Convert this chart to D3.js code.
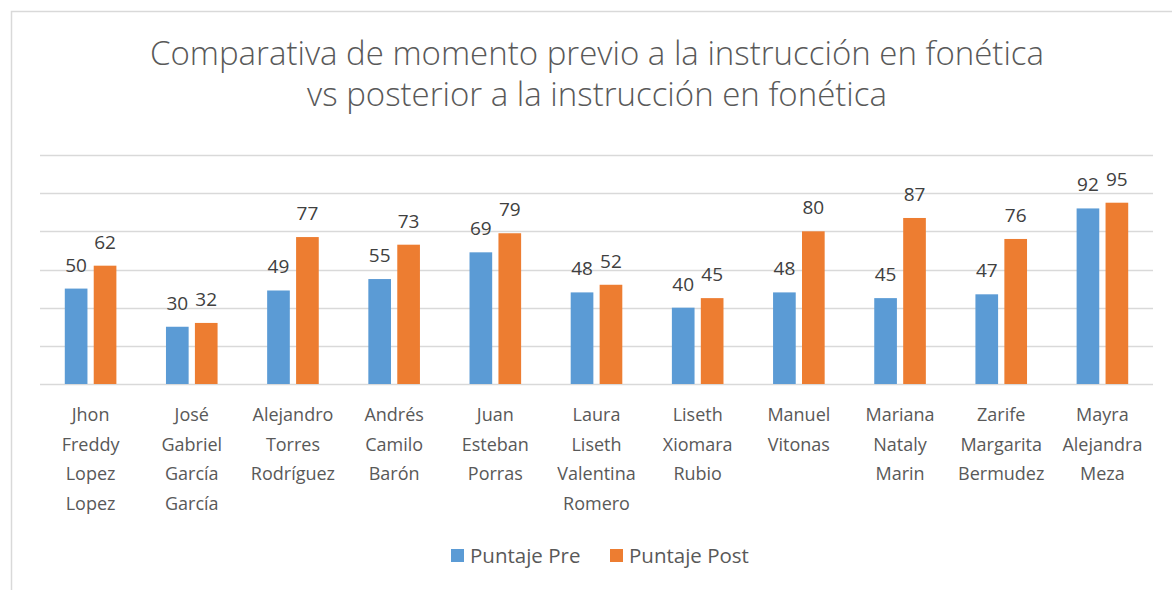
<!DOCTYPE html>
<html>
<head>
<meta charset="utf-8">
<script src="https://cdn.jsdelivr.net/npm/d3@7"></script>
<style>
  body { margin: 0; background: #fff; }
  svg text { font-family: "Open Sans", "Noto Sans", sans-serif; }
</style>
</head>
<body>
<svg id="chart" width="1172" height="590"></svg>
<script>
// data
const students = [
  ["Jhon", "Freddy", "Lopez", "Lopez"],
  ["José", "Gabriel", "García", "García"],
  ["Alejandro", "Torres", "Rodríguez"],
  ["Andrés", "Camilo", "Barón"],
  ["Juan", "Esteban", "Porras"],
  ["Laura", "Liseth", "Valentina", "Romero"],
  ["Liseth", "Xiomara", "Rubio"],
  ["Manuel", "Vitonas"],
  ["Mariana", "Nataly", "Marin"],
  ["Zarife", "Margarita", "Bermudez"],
  ["Mayra", "Alejandra", "Meza"]
];
const puntajePre = [50, 30, 49, 55, 69, 48, 40, 48, 45, 47, 92];
const puntajePost = [62, 32, 77, 73, 79, 52, 45, 80, 87, 76, 95];
const seriesNames = ["Puntaje Pre", "Puntaje Post"];
const colors = ["#5B9BD5", "#ED7D31"];
const yTicks = [0, 20, 40, 60, 80, 100, 120];
const titleLines = [
  "Comparativa de momento previo a la instrucción en fonética",
  "vs posterior a la instrucción en fonética"
];

const svg = d3.select("#chart");
const textColor = "#595959";

// chart frame
svg.append("rect")
  .attr("x", 11.5).attr("y", 11.5)
  .attr("width", 1180).attr("height", 600)
  .attr("fill", "none").attr("stroke", "#D9D9D9").attr("stroke-width", 1.5);

// title
svg.append("g").selectAll("text")
  .data(titleLines)
  .join("text")
  .attr("x", 597)
  .attr("y", (d, i) => 65 + i * 41)
  .attr("text-anchor", "middle")
  .attr("font-size", 33)
  .attr("font-weight", 300)
  .attr("fill", textColor)
  .text(d => d);

const keys = students.map((d, i) => i);
const x = d3.scaleBand().domain(keys).range([40, 1153]);
const y = d3.scaleLinear().domain([0, 120]).range([384, 155]);

const bw = x.bandwidth() * 0.224;
const gap = x.bandwidth() * 0.062;

// gridlines
svg.append("g").selectAll("line")
  .data(yTicks)
  .join("line")
  .attr("x1", 40).attr("x2", 1153)
  .attr("y1", d => Math.round(y(d)) + 0.5)
  .attr("y2", d => Math.round(y(d)) + 0.5)
  .attr("stroke", "#D9D9D9").attr("stroke-width", 1.5);

const series = [puntajePre, puntajePost];
series.forEach((vals, s) => {
  const off = s === 0 ? -gap / 2 - bw : gap / 2;
  const g = svg.append("g");
  g.selectAll("rect")
    .data(vals)
    .join("rect")
    .attr("x", (d, i) => x(i) + x.bandwidth() / 2 + off)
    .attr("y", d => y(d))
    .attr("width", bw)
    .attr("height", d => y(0) - y(d))
    .attr("fill", colors[s]);
  g.selectAll("text")
    .data(vals)
    .join("text")
    .attr("x", (d, i) => x(i) + x.bandwidth() / 2 + off + bw / 2)
    .attr("y", d => y(d) - 17)
    .attr("text-anchor", "middle")
    .attr("font-size", 19)
    .attr("fill", "#404040")
    .text(d => d);
});

// category labels
const cat = svg.append("g").selectAll("text")
  .data(students)
  .join("text")
  .attr("x", (d, i) => x(i) + x.bandwidth() / 2)
  .attr("y", 421)
  .attr("text-anchor", "middle")
  .attr("font-size", 18)
  .attr("fill", textColor);
cat.selectAll("tspan")
  .data(d => d)
  .join("tspan")
  .attr("x", function () { return d3.select(this.parentNode).attr("x"); })
  .attr("dy", (d, i) => i === 0 ? 0 : 29.5)
  .text(d => d);

// legend
const legX = [451, 610];
const leg = svg.append("g").selectAll("g")
  .data(seriesNames)
  .join("g");
leg.append("rect")
  .attr("x", (d, i) => legX[i]).attr("y", 549)
  .attr("width", 13).attr("height", 13)
  .attr("fill", (d, i) => colors[i]);
leg.append("text")
  .attr("x", (d, i) => legX[i] + 19).attr("y", 563)
  .attr("font-size", 20.5)
  .attr("fill", textColor)
  .text(d => d);
</script>
</body>
</html>
